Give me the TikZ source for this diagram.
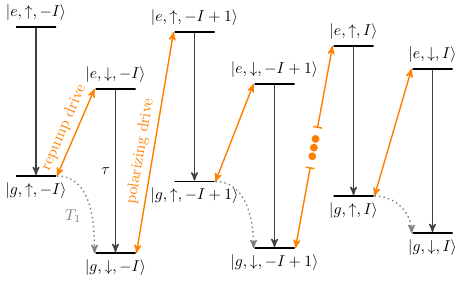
\documentclass[tikz,border=0pt]{standalone}
\usepackage{amsmath}
\usepackage{amssymb}
\usepackage{tikz}
\usepackage{xcolor}
\usetikzlibrary{arrows}
\usetikzlibrary{arrows.meta}

\tikzset{
  level/.style={draw, very thick, minimum width=25.4pt, minimum height=0pt, inner sep=0pt},
  decay/.style={line width=0.9pt, black!75, -stealth'},
  drive/.style={line width=0.9pt, orange, stealth'-stealth'},
  relax/.style={line width=0.9pt, gray, dotted, -stealth'},
  drivedot/.style={circle, fill=orange, inner sep=0pt, minimum size=5pt},
}

\begin{document}
\begin{tikzpicture}[x=0.635pt, y=0.635pt]
        \useasboundingbox (0,0) rectangle (463,281);
        % excited levels
        \foreach \n/\x/\y/\s in {eu0/36/254/{e,\uparrow,-I}, ed0/115.5/192/{e,\downarrow,-I},
                                 eu1/194.5/249/{e,\uparrow,-I+1}, ed1/274.5/197/{e,\downarrow,-I+1},
                                 eu2/353.5/235/{e,\uparrow,I}, ed2/432.5/212/{e,\downarrow,I}} {
            \node[level, label={above:$|\s\rangle$}] (\n) at (\x,\y) {};
        }
        % ground levels
        \foreach \n/\x/\y/\s in {gu0/36/105/{g,\uparrow,-I}, gd0/115.5/28/{g,\downarrow,-I},
                                 gu1/194.5/99.5/{g,\uparrow,-I+1}, gd1/274.5/33/{g,\downarrow,-I+1},
                                 gu2/353.5/85/{g,\uparrow,I}, gd2/432.5/48/{g,\downarrow,I}} {
            \node[level, label={below:$|\s\rangle$}] (\n) at (\x,\y) {};
        }
        \foreach \a/\b in {eu0/gu0, ed0/gd0, eu1/gu1, ed1/gd1, eu2/gu2, ed2/gd2} {
            \draw[decay] (\a) -- (\b);
        }
        \path (ed0) -- (gd0) node[midway, left] (tau) {$\tau$};
        % drives
        \draw[drive] (gu0.east) -- (ed0.west)
            node[midway, sloped, above, text=orange] (repump) {repump drive};
        \draw[drive] (gd0.east) -- (eu1.west)
            node[pos=0.45, sloped, above, text=orange] (polar) {polarizing drive};
        \draw[drive] (gu1.east) -- (ed1.west);
        \draw[drive] (gu2.east) -- (ed2.west);
        \path (eu2.west) -- (gd1.east)
            coordinate[pos=0.406] (brka) coordinate[pos=0.6] (brkb)
            node[pos=0.46, drivedot] (dota) {}
            node[pos=0.503, drivedot] (dotb) {}
            node[pos=0.546, drivedot] (dotc) {};
        \draw[line width=0.9pt, orange, {Bar[width=5.5pt]}-stealth'] (brka) -- (eu2.west);
        \draw[line width=0.9pt, orange, {Bar[width=5.5pt]}-stealth'] (brkb) -- (gd1.east);
        % relaxation
        \draw[relax] (gu0.east) to[out=0, in=90]
            node[pos=0.65, left=3pt, text=gray] (tone) {$T_1$} (gd0.west);
        \draw[relax] (gu1.east) to[out=0, in=90] (gd1.west);
        \draw[relax] (gu2.east) to[out=0, in=90] (gd2.west);
    \end{tikzpicture}
\end{document}
